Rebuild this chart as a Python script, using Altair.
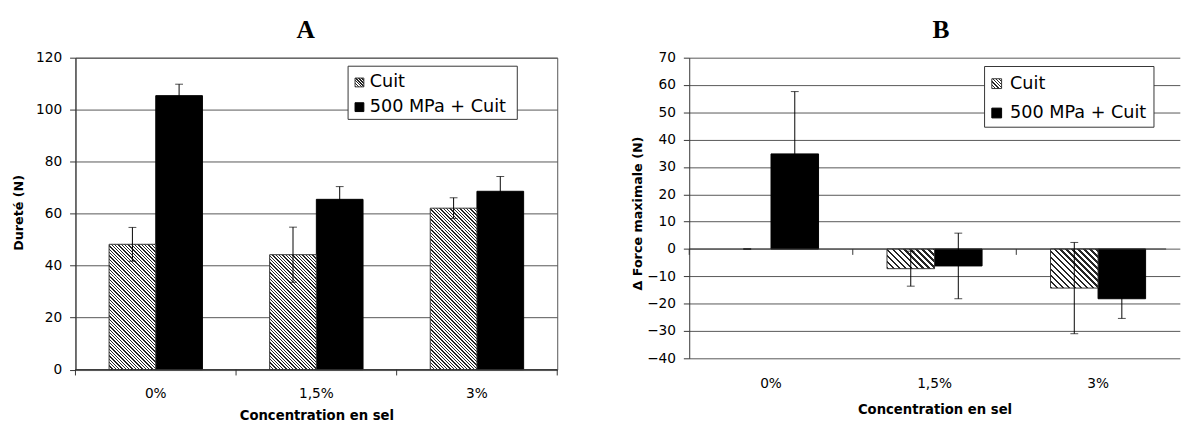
import math
import altair as alt
import pandas as pd

# ---------------- data ----------------
categories = ["0%", "1,5%", "3%"]
series = ["Cuit", "500 MPa + Cuit"]

durete_cuit = [48.2, 44.2, 62.1]
durete_cuit_err = [6.5, 10.6, 4.0]
durete_hp = [105.4, 65.5, 68.6]
durete_hp_err = [4.4, 4.9, 5.7]

force_cuit = [0.0, -7.2, -14.3]
force_cuit_err = [0.0, 6.4, 16.7]
force_hp = [34.8, -6.2, -18.2]
force_hp_err = [22.8, 12.0, 7.2]

FONT = "DejaVu Sans"
PAD_OUTER = 0.72
GRID = "#555555"


def make_df(vc, ec, vh, eh):
    rows = []
    for i, c in enumerate(categories):
        rows.append({"cat": c, "series": series[0], "value": vc[i], "lo": vc[i] - ec[i], "hi": vc[i] + ec[i]})
        rows.append({"cat": c, "series": series[1], "value": vh[i], "lo": vh[i] - eh[i], "hi": vh[i] + eh[i]})
    return pd.DataFrame(rows)


def hatch(w, h, period, frac=0.42, dark="#262626", light="#ffffff"):
    """Diagonal '\\' hatching as a hard-stop linear gradient for a w x h px box
    (phase 0 at the bottom-left corner)."""
    h = max(h, 1.0)
    pp = period / math.sqrt(2)
    n = (w + h) / math.sqrt(2) / pp
    k = (1 / h + 1 / w) / (1 / h ** 2 + 1 / w ** 2)
    stops = []
    i = 0
    while i < n:
        a = round(i / n, 5)
        b = round(min((i + frac) / n, 1.0), 5)
        c = round(min((i + 1) / n, 1.0), 5)
        stops += [{"offset": a, "color": dark}, {"offset": b, "color": dark},
                  {"offset": b, "color": light}, {"offset": c, "color": light}]
        i += 1
    return {"gradient": "linear", "x1": 0, "y1": 1, "x2": k / h, "y2": 1 - k / w, "stops": stops}


one = pd.DataFrame({"k": [0]})


def panel(df, W, H, xrange, ydom, yvals, ytitle, ytitle_x, ytitle_y, xlabpad, xtitle_y,
          title, title_xy, per_w, leg, view_stroke, end_tick, segment):
    scale_x = dict(domain=categories, paddingInner=0, paddingOuter=0)
    if xrange is not None:
        scale_x["range"] = xrange
    SX = alt.Scale(**scale_x)
    AX = alt.Axis(title="Concentration en sel", ticks=False, tickSize=0, domain=False,
                  labelAngle=0, labelPadding=xlabpad, labelFont=FONT, labelFontSize=14,
                  labelColor="#000", titleFont=FONT, titleFontSize=13.5, titleFontWeight="bold",
                  titleColor="#000", titleY=xtitle_y, titleBaseline="middle", grid=False)
    X = alt.X("cat:N", sort=categories, scale=SX, axis=AX, title="Concentration en sel")
    XO = alt.XOffset("series:N", sort=series,
                     scale=alt.Scale(domain=series, paddingInner=0, paddingOuter=PAD_OUTER))
    SY = alt.Scale(domain=ydom, nice=False, zero=False)
    AY = alt.Axis(values=yvals, grid=True, gridColor=GRID, gridWidth=1,
                  domainColor="#333", tickColor="#333", tickSize=6, labelPadding=8,
                  labelFont=FONT, labelFontSize=14, labelColor="#000",
                  titleFont=FONT, titleFontSize=13, titleFontWeight="bold",
                  titleColor="#000", titleX=ytitle_x, titleY=ytitle_y,
                  titleAngle=-90, titleBaseline="middle", titleAlign="center", labelOverlap=False)

    def Y(field):
        return alt.Y(field, title=ytitle, scale=SY, axis=AY)

    Y0 = alt.YDatum(0, scale=SY, axis=AY, title=ytitle)

    ppu = H / (ydom[1] - ydom[0])
    barw = (W if xrange is None else xrange[1]) / 3 / (2 + 2 * PAD_OUTER)
    period = barw / per_w  # horizontal hatch period, whole number of periods per bar width

    base = alt.Chart(df)
    layers = []
    # black bars
    layers.append(base.transform_filter(alt.datum.series == series[1])
                  .mark_bar(color="#000", stroke="#000", strokeWidth=1)
                  .encode(x=X, xOffset=XO, y=Y("value:Q"), y2=alt.datum(0)))
    # hatched bars: hatching split in square pieces (keeps every gradient short)
    sub = df[df.series == series[0]]
    for _, r in sub.iterrows():
        v = r["value"]
        if v == 0:
            continue
        step = barw / ppu if segment else abs(v)
        sgn = 1 if v > 0 else -1
        y0 = 0.0
        while abs(y0) < abs(v) - 1e-9:
            y1 = sgn * min(abs(y0) + step, abs(v))
            g = hatch(barw, abs(y1 - y0) * ppu, period)
            seg = pd.DataFrame({"cat": [r["cat"]], "series": [r["series"]], "a": [y0], "b": [y1]})
            layers.append(alt.Chart(seg).mark_bar(fill=g, strokeWidth=0)
                          .encode(x=X, xOffset=XO, y=Y("b:Q"), y2="a:Q"))
            y0 = y1
    # outline of hatched bars
    layers.append(base.transform_filter((alt.datum.series == series[0]) & (alt.datum.value != 0))
                  .mark_bar(fillOpacity=0, stroke="#333", strokeWidth=1)
                  .encode(x=X, xOffset=XO, y=Y("value:Q"), y2=alt.datum(0)))
    # zero line / category axis with ticks between categories
    layers.append(alt.Chart(one).mark_rule(color="#333", strokeWidth=1).encode(y=Y0))
    layers.append(alt.Chart(pd.DataFrame({"cat": categories}))
                  .mark_rule(color="#333", strokeWidth=1, y2Offset=6)
                  .encode(x=alt.X("cat:N", sort=categories, bandPosition=0, scale=SX, axis=AX,
                                  title="Concentration en sel"),
                          y=Y0, y2=alt.datum(0)))
    if end_tick:
        layers.append(alt.Chart(one).mark_rule(color="#333", strokeWidth=1)
                      .encode(x=alt.value(W), y=alt.value(H), y2=alt.value(H + 6)))
    # error bars
    layers.append(base.mark_rule(color="#000", strokeWidth=1)
                  .encode(x=X, xOffset=XO, y=Y("lo:Q"), y2="hi:Q"))
    layers.append(base.mark_tick(color="#000", thickness=1, size=8, orient="horizontal")
                  .encode(x=X, xOffset=XO, y=Y("lo:Q")))
    layers.append(base.mark_tick(color="#000", thickness=1, size=8, orient="horizontal")
                  .encode(x=X, xOffset=XO, y=Y("hi:Q")))
    # legend
    bx0, bx1, by0, by1, sqx, sq, r1, r2, tx = leg
    layers.append(alt.Chart(one).mark_rect(fill="#fff", stroke="#333", strokeWidth=1)
                  .encode(x=alt.value(bx0), x2=alt.value(bx1), y=alt.value(by0), y2=alt.value(by1)))
    layers.append(alt.Chart(one).mark_rect(fill=hatch(sq, sq, sq / 3, 0.4), stroke="#333", strokeWidth=1)
                  .encode(x=alt.value(sqx), x2=alt.value(sqx + sq),
                          y=alt.value(r1 - sq / 2), y2=alt.value(r1 + sq / 2)))
    layers.append(alt.Chart(one).mark_rect(fill="#000", stroke="#000", strokeWidth=1)
                  .encode(x=alt.value(sqx), x2=alt.value(sqx + sq),
                          y=alt.value(r2 - sq / 2), y2=alt.value(r2 + sq / 2)))
    for txt, ry in ((series[0], r1), (series[1], r2)):
        layers.append(alt.Chart(one).mark_text(align="left", baseline="middle", font=FONT,
                                               fontSize=18, color="#000")
                      .encode(x=alt.value(tx), y=alt.value(ry), text=alt.value(txt)))
    # panel letter
    layers.append(alt.Chart(one).mark_text(align="center", baseline="middle", font="Liberation Serif",
                                           fontSize=26, fontWeight="bold", color="#000")
                  .encode(x=alt.value(title_xy[0]), y=alt.value(title_xy[1]), text=alt.value(title)))

    return alt.layer(*layers).properties(width=W, height=H, view=alt.ViewBackground(stroke=view_stroke))


dfA = make_df(durete_cuit, durete_cuit_err, durete_hp, durete_hp_err)
dfB = make_df(force_cuit, force_cuit_err, force_hp, force_hp_err)

chartA = panel(dfA, 492, 318.5, None, [0, 120], list(range(0, 121, 20)), "Dureté (N)",
               -58.1, 158, 17.5, 47, "A", (235.2, -27.7), 14,
               (278.4, 451.2, 8.7, 63, 285.5, 9, 25.3, 50.5, 300.5), "#555", True, True)
chartB = panel(dfB, 487, 307, [0, 501], [-40, 70], list(range(-40, 71, 10)), "Δ Force maximale (N)",
               -52.6, 158.7, 19, 52, "B", (257.1, -27.7), 8,
               (301.6, 474.6, 9, 71, 309, 10, 26.5, 56.5, 327.6), "transparent", False, False)

chart = (alt.hconcat(chartA, chartB, spacing=73.8)
         .resolve_scale(x="independent", y="independent", xOffset="independent")
         .properties(padding={"left": 3.9, "top": 4.3, "right": 0, "bottom": 0})
         .configure_view(stroke="transparent")
         .configure(background="#ffffff"))

chart.save("out.html", embed_options={"renderer": "svg", "actions": False})
